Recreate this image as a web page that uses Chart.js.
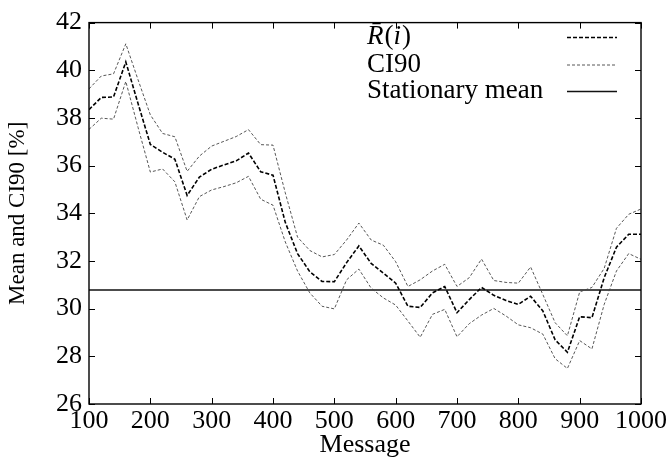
<!DOCTYPE html>
<html lang="en">
<head>
<meta charset="UTF-8">
<title>Mean and CI90</title>
<script src="https://cdn.jsdelivr.net/npm/chart.js"></script>
<style>
  html, body { margin: 0; padding: 0; background: #fff; }
  .chart-container { width: 670px; height: 465px; }
</style>
</head>
<body>

<div class="chart-container">
  <canvas id="ciChart" width="670" height="465"></canvas>
</div>

<script>
  // values, one point every 20 messages
  const messages = [100, 120, 140, 160, 180, 200, 220, 240, 260, 280,
                    300, 320, 340, 360, 380, 400, 420, 440, 460, 480,
                    500, 520, 540, 560, 580, 600, 620, 640, 660, 680,
                    700, 720, 740, 760, 780, 800, 820, 840, 860, 880,
                    900, 920, 940, 960, 980, 1000];
  const meanR = [38.35, 38.86, 38.88, 40.35, 38.6, 36.89, 36.56, 36.27, 34.75, 35.52,
                 35.85, 36.03, 36.2, 36.53, 35.74, 35.6, 33.62, 32.31, 31.55, 31.14,
                 31.13, 31.93, 32.63, 31.9, 31.49, 31.07, 30.1, 30.05, 30.66, 30.93,
                 29.83, 30.38, 30.89, 30.56, 30.34, 30.18, 30.52, 29.9, 28.69, 28.17,
                 29.66, 29.62, 31.3, 32.58, 33.12, 33.12];
  const ciUpper = [39.22, 39.76, 39.85, 41.11, 39.6, 38.13, 37.35, 37.21, 35.76, 36.4,
                   36.82, 37.02, 37.22, 37.51, 36.88, 36.86, 34.86, 33.0, 32.44, 32.17,
                   32.27, 32.88, 33.59, 32.88, 32.66, 31.97, 30.93, 31.21, 31.58, 31.86,
                   30.93, 31.3, 32.08, 31.18, 31.1, 31.07, 31.75, 30.59, 29.41, 28.86,
                   30.7, 30.89, 31.69, 33.37, 33.96, 34.18];
  const ciLower = [37.52, 37.99, 37.95, 39.53, 37.6, 35.73, 35.86, 35.32, 33.72, 34.7,
                   34.98, 35.12, 35.28, 35.55, 34.59, 34.34, 32.8, 31.58, 30.66, 30.1,
                   29.99, 31.21, 31.66, 30.86, 30.45, 30.15, 29.48, 28.8, 29.76, 29.97,
                   28.82, 29.37, 29.73, 30.01, 29.69, 29.32, 29.2, 28.93, 27.9, 27.49,
                   28.66, 28.31, 30.18, 31.58, 32.31, 32.07];
  const stationaryMean = 30.78;
  const xTicks = [100, 200, 300, 400, 500, 600, 700, 800, 900, 1000];
  const yTicks = [26, 28, 30, 32, 34, 36, 38, 40, 42];

  const FONT = "'Liberation Serif', 'DejaVu Serif', serif";
  const TICK_SIZE = 26;
  const KEY_SIZE = 27;

  function toPoints(ys) {
    return messages.map((m, i) => ({ x: m, y: ys[i] }));
  }

  // gnuplot-like frame with inward ticks on all four sides
  const framePlugin = {
    id: 'frame',
    afterDatasetsDraw(chart) {
      const { ctx, chartArea: a, scales } = chart;
      const len = 6;
      ctx.save();
      ctx.strokeStyle = '#000';
      ctx.lineWidth = 1;
      ctx.beginPath();
      xTicks.forEach(v => {
        const px = Math.round(scales.x.getPixelForValue(v)) + 0.5;
        ctx.moveTo(px, a.bottom); ctx.lineTo(px, a.bottom - len);
        ctx.moveTo(px, a.top); ctx.lineTo(px, a.top + len);
      });
      yTicks.forEach(v => {
        const py = Math.round(scales.y.getPixelForValue(v)) + 0.5;
        ctx.moveTo(a.left, py); ctx.lineTo(a.left + len, py);
        ctx.moveTo(a.right, py); ctx.lineTo(a.right - len, py);
      });
      ctx.stroke();
      ctx.lineWidth = 1.4;
      ctx.strokeRect(a.left, a.top, a.right - a.left, a.bottom - a.top);
      ctx.restore();
    }
  };

  // key in the upper right, text on the left and line samples on the right
  const keyPlugin = {
    id: 'key',
    afterDraw(chart) {
      const ctx = chart.ctx;
      const textX = 367, lineX0 = 567, lineX1 = 617;
      const rows = [37, 64.5, 91];
      ctx.save();
      ctx.fillStyle = '#000';
      ctx.textBaseline = 'middle';
      ctx.textAlign = 'left';

      // R̄(i) with italic R and i
      let x = textX;
      const parts = [['R\u0304', true], ['(', false], ['i', true], [')', false]];
      parts.forEach(([t, it]) => {
        ctx.font = (it ? 'italic ' : '') + KEY_SIZE + 'px ' + FONT;
        ctx.fillText(t, x, rows[0]);
        x += ctx.measureText(t).width + (it ? 1 : 0);
      });
      ctx.font = KEY_SIZE + 'px ' + FONT;
      ctx.fillText('CI90', textX, rows[1]);
      ctx.fillText('Stationary mean', textX, rows[2]);

      const styles = [
        { dash: [4, 2], width: 1.6, color: '#000' },
        { dash: [3, 2], width: 0.9, color: '#444' },
        { dash: [], width: 1.4, color: '#111' }
      ];
      styles.forEach((s, i) => {
        ctx.beginPath();
        ctx.setLineDash(s.dash);
        ctx.lineWidth = s.width;
        ctx.strokeStyle = s.color;
        ctx.moveTo(lineX0, rows[i] + 0.5);
        ctx.lineTo(lineX1, rows[i] + 0.5);
        ctx.stroke();
      });
      ctx.restore();
    }
  };

  const ctx = document.getElementById('ciChart').getContext('2d');
  const ciChart = new Chart(ctx, {
    type: 'line',
    data: {
      datasets: [
        { label: 'R(i)', data: toPoints(meanR), borderColor: '#000', borderWidth: 1.6, borderDash: [4, 2], pointRadius: 0, tension: 0 },
        { label: 'CI90', data: toPoints(ciUpper), borderColor: '#444', borderWidth: 0.9, borderDash: [3, 2], pointRadius: 0, tension: 0 },
        { label: 'CI90 low', data: toPoints(ciLower), borderColor: '#444', borderWidth: 0.9, borderDash: [3, 2], pointRadius: 0, tension: 0 },
        { label: 'Stationary mean', data: [{ x: 100, y: stationaryMean }, { x: 1000, y: stationaryMean }], borderColor: '#111', borderWidth: 1.4, pointRadius: 0 }
      ]
    },
    options: {
      responsive: false,
      animation: false,
      layout: { padding: { top: 17, right: 29, left: 0, bottom: 0 } },
      plugins: { legend: { display: false }, tooltip: { enabled: false } },
      scales: {
        x: {
          type: 'linear', min: 100, max: 1000,
          afterBuildTicks: s => { s.ticks = xTicks.map(v => ({ value: v })); },
          afterFit: s => { s.height = 61; },
          grid: { display: false, drawTicks: false }, border: { display: false },
          ticks: { color: '#000', padding: 2, maxRotation: 0, callback: v => String(v), font: { family: FONT, size: TICK_SIZE } },
          title: { display: true, text: 'Message', color: '#000', padding: { top: 0, bottom: 4 }, font: { family: FONT, size: TICK_SIZE } }
        },
        y: {
          min: 26, max: 42,
          afterBuildTicks: s => { s.ticks = yTicks.map(v => ({ value: v })); },
          afterFit: s => { s.width = 89; },
          grid: { display: false, drawTicks: false }, border: { display: false },
          ticks: { color: '#000', padding: 7, callback: v => String(v), font: { family: FONT, size: TICK_SIZE } },
          title: { display: true, text: 'Mean and CI90 [%]', color: '#000', padding: { top: 4, bottom: 0 }, font: { family: FONT, size: 23 } }
        }
      }
    },
    plugins: [framePlugin, keyPlugin]
  });
</script>

</body>
</html>
